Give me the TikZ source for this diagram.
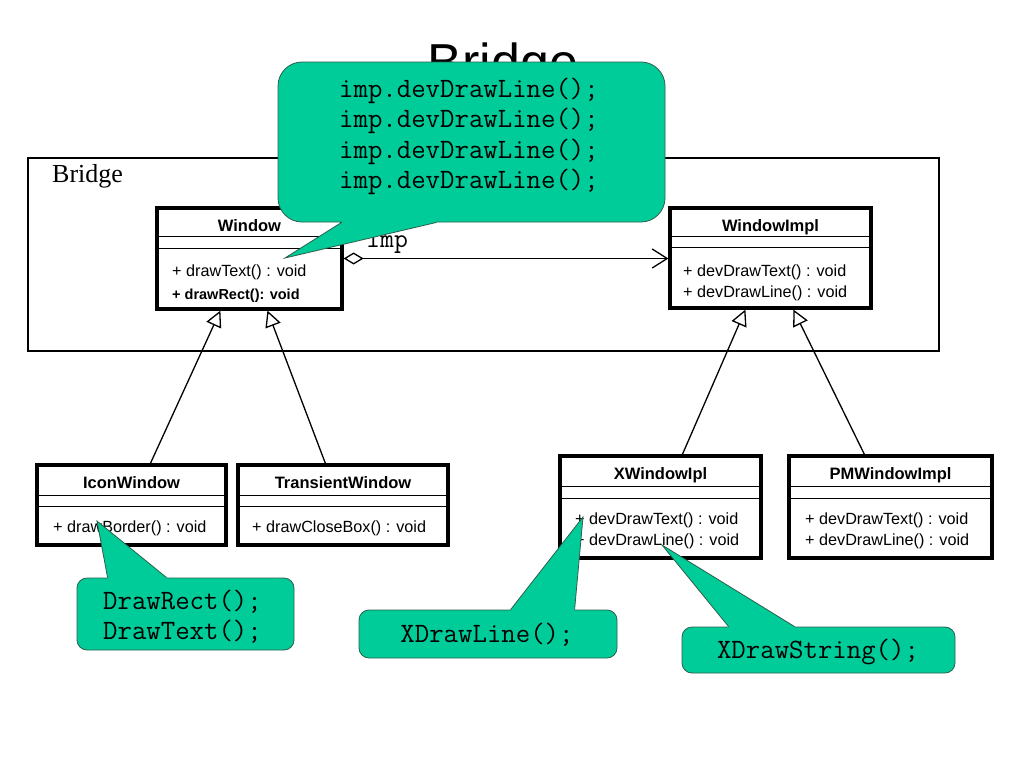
\documentclass[tikz,border=0pt]{standalone}
\usepackage{fontspec}
\setmainfont{Liberation Serif}
\newfontfamily\arial{Liberation Sans}
\usetikzlibrary{arrows.meta,calc}
\definecolor{cg}{RGB}{0,204,153}
\definecolor{cgline}{RGB}{45,95,75}
\begin{document}
\begin{tikzpicture}[x=1pt,y=-1pt,
  classbox/.style={draw, line width=3.2pt, inner sep=0pt, fill=white},
  sepline/.style={line width=1.3pt},
  cname/.style={font=\arial\bfseries\fontsize{16.5}{20}\selectfont, anchor=base, inner sep=0pt},
  op/.style={font=\arial\fontsize{16.2}{19}\selectfont, anchor=base west, inner sep=0pt},
  opb/.style={font=\arial\bfseries\fontsize{14.5}{17}\selectfont, anchor=base west, inner sep=0pt},
  inh/.style={line width=1.3pt, -{Triangle[open, length=16pt, width=16pt, fill=white, line width=1.3pt]}},
  agg/.style={line width=1.3pt, {Diamond[open, length=20pt, width=12pt, fill=white, line width=1.3pt]}-{Straight Barb[length=15pt, width=19pt, line width=1.3pt]}},
  callout/.style={fill=cg, draw=cgline, line width=0.8pt, inner sep=0pt},
  ptrline/.style={draw=cgline, line width=0.8pt},
  ctext/.style={font=\ttfamily\fontsize{28}{34}\selectfont, inner sep=0pt},
  lbl/.style={font=\ttfamily\fontsize{27}{32}\selectfont, inner sep=0pt}
]
\useasboundingbox[fill=white] (0,0) rectangle (1024,768);

% title
\node[font=\arial\fontsize{52}{60}\selectfont, anchor=base, inner sep=0pt] (title) at (503,80) {Bridge};

% frame
\node[draw, line width=1.4pt, minimum width=911pt, minimum height=193pt, inner sep=0pt] (frame) at (483.5,254.5) {};
\node[font=\fontsize{26}{30}\selectfont, anchor=base west, inner sep=0pt] (flabel) at (52,182) {Bridge};

% Window
\node[classbox, minimum width=185pt, minimum height=101pt] (win) at (249.5,258.5) {};
\draw[sepline] ($(win.north west)+(0,30)$) -- ($(win.north east)+(0,30)$);
\draw[sepline] ($(win.north west)+(0,42)$) -- ($(win.north east)+(0,42)$);
\node[cname] (winN) at (249.5,231) {Window};
\node[op] (winO1) at (172,276) {+ drawText() : void};
\node[opb] (winO2) at (172,299) {+ drawRect(): void};

% WindowImpl
\node[classbox, minimum width=201pt, minimum height=100pt] (wimp) at (770.5,258) {};
\draw[sepline] ($(wimp.north west)+(0,30)$) -- ($(wimp.north east)+(0,30)$);
\draw[sepline] ($(wimp.north west)+(0,41)$) -- ($(wimp.north east)+(0,41)$);
\node[cname] (wimpN) at (770.5,231) {WindowImpl};
\node[op] (wimpO1) at (683,276) {+ devDrawText() : void};
\node[op] (wimpO2) at (683,297) {+ devDrawLine() : void};

% IconWindow
\node[classbox, minimum width=189pt, minimum height=80pt] (icon) at (131.5,505) {};
\draw[sepline] ($(icon.north west)+(0,32)$) -- ($(icon.north east)+(0,32)$);
\draw[sepline] ($(icon.north west)+(0,43)$) -- ($(icon.north east)+(0,43)$);
\node[cname] (iconN) at (131.5,488) {IconWindow};
\node[op] (iconO1) at (53,532) {+ drawBorder() : void};

% TransientWindow
\node[classbox, minimum width=210pt, minimum height=80pt] (trans) at (343,505) {};
\draw[sepline] ($(trans.north west)+(0,32)$) -- ($(trans.north east)+(0,32)$);
\draw[sepline] ($(trans.north west)+(0,43)$) -- ($(trans.north east)+(0,43)$);
\node[cname] (transN) at (343,488) {TransientWindow};
\node[op] (transO1) at (252,532) {+ drawCloseBox() : void};

% XWindowIpl
\node[classbox, minimum width=201pt, minimum height=102pt] (xw) at (660.5,507) {};
\draw[sepline] ($(xw.north west)+(0,32)$) -- ($(xw.north east)+(0,32)$);
\draw[sepline] ($(xw.north west)+(0,44)$) -- ($(xw.north east)+(0,44)$);
\node[cname] (xwN) at (660.5,479) {XWindowIpl};
\node[op] (xwO1) at (575,524) {+ devDrawText() : void};
\node[op] (xwO2) at (575,545) {+ devDrawLine() : void};

% PMWindowImpl
\node[classbox, minimum width=203pt, minimum height=102pt] (pm) at (890.5,507) {};
\draw[sepline] ($(pm.north west)+(0,32)$) -- ($(pm.north east)+(0,32)$);
\draw[sepline] ($(pm.north west)+(0,44)$) -- ($(pm.north east)+(0,44)$);
\node[cname] (pmN) at (890.5,479) {PMWindowImpl};
\node[op] (pmO1) at (805,524) {+ devDrawText() : void};
\node[op] (pmO2) at (805,545) {+ devDrawLine() : void};

% inheritance
\draw[inh] ($(icon.north west)+(115,0)$) -- ($(win.south west)+(65,0)$);
\draw[inh] ($(trans.north west)+(89,0)$) -- ($(win.south west)+(112,0)$);
\draw[inh] ($(xw.north west)+(124,0)$) -- ($(wimp.south west)+(77,0)$);
\draw[inh] ($(pm.north west)+(77,0)$) -- ($(wimp.south west)+(125,0)$);

% aggregation
\draw[agg] (win.east) -- (win.east -| wimp.west);
\node[lbl, anchor=base west] (implbl) at (366,247) {imp};

% callout 1
\node[callout, rounded corners=24pt, minimum width=387pt, minimum height=160pt] (c1) at (471.5,142) {};
\coordinate (t1) at (285,258);
\fill[cg] ($(c1.south west)+(64,0)$) -- (t1) -- ($(c1.south west)+(159,0)$) -- ($(c1.south west)+(159,-3)$) -- ($(c1.south west)+(64,-3)$) -- cycle;
\draw[ptrline] ($(c1.south west)+(64,0)$) -- (t1) -- ($(c1.south west)+(159,0)$);
\node[ctext, anchor=base] (c1a) at (469,97) {imp.devDrawLine();};
\node[ctext, anchor=base] (c1b) at (469,127) {imp.devDrawLine();};
\node[ctext, anchor=base] (c1c) at (469,158) {imp.devDrawLine();};
\node[ctext, anchor=base] (c1d) at (469,188) {imp.devDrawLine();};

% callout 2
\node[callout, rounded corners=10pt, minimum width=217pt, minimum height=72pt] (c2) at (185.5,614) {};
\coordinate (t2) at (97,521);
\fill[cg] ($(c2.north west)+(31,0)$) -- (t2) -- ($(c2.north west)+(90,0)$) -- ($(c2.north west)+(90,3)$) -- ($(c2.north west)+(31,3)$) -- cycle;
\draw[ptrline] ($(c2.north west)+(31,0)$) -- (t2) -- ($(c2.north west)+(90,0)$);
\node[ctext, anchor=base west] (c2a) at (103,609) {DrawRect();};
\node[ctext, anchor=base west] (c2b) at (103,639) {DrawText();};

% callout 3
\node[callout, rounded corners=10pt, minimum width=258pt, minimum height=48pt] (c3) at (488,634) {};
\coordinate (t3) at (583,517);
\fill[cg] ($(c3.north west)+(152,0)$) -- (t3) -- ($(c3.north west)+(216,0)$) -- ($(c3.north west)+(216,3)$) -- ($(c3.north west)+(152,3)$) -- cycle;
\draw[ptrline] ($(c3.north west)+(152,0)$) -- (t3) -- ($(c3.north west)+(216,0)$);
\node[ctext, anchor=base] (c3a) at (487,642) {XDrawLine();};

% callout 4
\node[callout, rounded corners=10pt, minimum width=273pt, minimum height=46pt] (c4) at (818.5,650) {};
\coordinate (t4) at (662,545);
\fill[cg] ($(c4.north west)+(47,0)$) -- (t4) -- ($(c4.north west)+(113,0)$) -- ($(c4.north west)+(113,3)$) -- ($(c4.north west)+(47,3)$) -- cycle;
\draw[ptrline] ($(c4.north west)+(47,0)$) -- (t4) -- ($(c4.north west)+(113,0)$);
\node[ctext, anchor=base] (c4a) at (818,658) {XDrawString();};
\end{tikzpicture}
\end{document}
